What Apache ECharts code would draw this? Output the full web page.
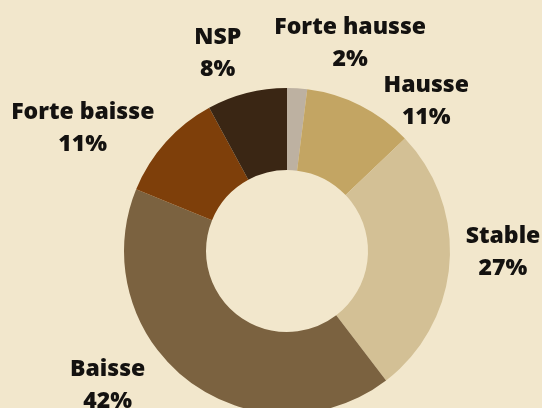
<!DOCTYPE html>
<html>
<head>
<meta charset="utf-8">
<script src="https://cdn.jsdelivr.net/npm/echarts@6/dist/echarts.min.js"></script>
<style>
  html, body { margin: 0; padding: 0; background: #f2e7cc; }
  #main { width: 542px; height: 408px; }
</style>
</head>
<body>
<div id="main"></div>
<script>
// données du graphique
var categories = ['Forte hausse', 'Hausse', 'Stable', 'Baisse', 'Forte baisse', 'NSP'];
var values = [2, 11, 27, 42, 11, 8];
var colors = ['#bdb1a1', '#c3a563', '#d3c095', '#7b6240', '#7e3f0a', '#3a2614'];

var cx = 287, cy = 251;

// décalage des étiquettes (degrés) et distance au centre
var labelNudge = [13.2, 15.8, -4.5, 16.1, -10.6, -4.9];
var labelDist = [219, 206, 216, 223, 239, 211];
var labelDy = 2;

var total = values.reduce(function (a, b) { return a + b; }, 0);
var midAngles = [];
var acc = 0;
values.forEach(function (v) {
    midAngles.push((acc + v / 2) / total * 360);
    acc += v;
});

var main = echarts.init(document.getElementById('main'));

var option = {
    backgroundColor: '#f2e7cc',
    animation: false,
    series: [
        {
            type: 'pie',
            center: [cx, cy],
            radius: [81, 163],
            startAngle: 90,
            clockwise: true,
            avoidLabelOverlap: false,
            label: {
                show: true,
                position: 'outside',
                formatter: function (p) { return p.name + '\n' + p.value + '%'; },
                fontFamily: 'Open Sans',
                fontWeight: 800,
                fontSize: 23,
                lineHeight: 32,
                color: '#141210'
            },
            labelLine: { show: false },
            labelLayout: function (params) {
                var i = params.dataIndex;
                var a = (midAngles[i] + labelNudge[i]) * Math.PI / 180;
                return {
                    x: cx + labelDist[i] * Math.sin(a),
                    y: cy - labelDist[i] * Math.cos(a) + labelDy,
                    align: 'center',
                    verticalAlign: 'middle'
                };
            },
            itemStyle: { borderWidth: 0 },
            data: categories.map(function (c, i) {
                return { name: c, value: values[i], itemStyle: { color: colors[i] } };
            })
        }
    ]
};

main.setOption(option);
</script>
</body>
</html>
